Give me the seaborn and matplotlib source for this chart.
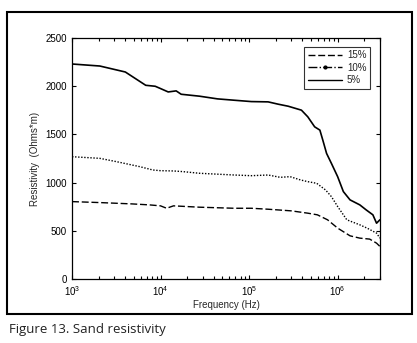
import numpy as np
import pandas as pd
import matplotlib
matplotlib.use('Agg')
import matplotlib.pyplot as plt
from matplotlib.lines import Line2D
from matplotlib.patches import Rectangle
import seaborn as sns

# values (frequency in Hz, resistivity in Ohms*m)
freq_5 = [1e3, 2.06e3, 4.0e3, 6.8e3, 8.7e3, 1.0e4, 1.22e4, 1.5e4, 1.71e4, 2.75e4,
          4.4e4, 6.8e4, 1.06e5, 1.64e5, 2.13e5, 2.76e5, 3.9e5, 4.6e5, 5.5e5,
          6.3e5, 6.8e5, 7.5e5, 8.5e5, 1.0e6, 1.16e6, 1.38e6, 1.78e6, 2.1e6,
          2.5e6, 2.75e6, 3.0e6]
res_5 = [2231, 2210, 2148, 2010, 2000, 1976, 1941, 1952, 1917, 1897,
         1869, 1855, 1841, 1838, 1814, 1793, 1752, 1683, 1579,
         1545, 1441, 1303, 1200, 1062, 907, 821, 769, 717,
         666, 579, 614]

freq_10 = [1e3, 2.06e3, 3.2e3, 5.8e3, 8.2e3, 1.0e4, 1.4e4, 1.8e4, 2.75e4, 6.8e4,
           1.06e5, 1.64e5, 2.25e5, 2.9e5, 3.8e5, 4.6e5, 5.8e5, 7.3e5, 8.5e5,
           1.0e6, 1.27e6, 1.78e6, 2.15e6, 2.75e6, 3.0e6]
res_10 = [1269, 1252, 1217, 1166, 1131, 1124, 1121, 1114, 1097, 1079,
          1072, 1079, 1055, 1062, 1028, 1010, 993, 924, 855,
          752, 614, 562, 528, 476, 424]

freq_15 = [1e3, 2.06e3, 4.8e3, 7.5e3, 1.0e4, 1.17e4, 1.4e4, 2.75e4, 6.8e4, 1.06e5,
           1.64e5, 3.0e5, 4.6e5, 5.9e5, 7.7e5, 1.0e6, 1.38e6, 1.78e6, 2.3e6,
           2.75e6, 3.0e6]
res_15 = [803, 793, 779, 769, 759, 734, 759, 745, 734, 734,
          724, 707, 683, 666, 614, 528, 448, 424, 414,
          372, 338]

labels = ['15%', '10%', '5%']
x_ticks = [1e3, 1e4, 1e5, 1e6]
y_ticks = [0, 500, 1000, 1500, 2000, 2500]

df = pd.concat([
    pd.DataFrame({'freq': freq_15, 'res': res_15, 'series': '15%'}),
    pd.DataFrame({'freq': freq_10, 'res': res_10, 'series': '10%'}),
    pd.DataFrame({'freq': freq_5, 'res': res_5, 'series': '5%'}),
])

sns.set_style('ticks')
plt.rcParams['font.family'] = ['Liberation Sans', 'DejaVu Sans']

fig = plt.figure(figsize=(4.17, 3.43), dpi=100)
ax = fig.add_axes([0.1727, 0.1866, 0.911 - 0.1727, 0.889 - 0.1866])

styles = {'15%': (0, (5, 2)), '10%': (0, (1, 1.2)), '5%': '-'}
widths = {'15%': 1.0, '10%': 1.0, '5%': 1.2}
for s in labels:
    sub = df[df['series'] == s]
    sns.lineplot(data=sub, x='freq', y='res', ax=ax, color='black',
                 linestyle=styles[s], linewidth=widths[s], legend=False)

ax.set_xscale('log')
ax.set_xlim(1e3, 3e6)
ax.set_ylim(0, 2500)
ax.set_xticks(x_ticks)
ax.set_yticks(y_ticks)
ax.tick_params(direction='in', which='both', top=True, right=True,
               labelsize=7, length=3, width=0.8, colors='black')
ax.tick_params(which='minor', length=2)
for sp in ax.spines.values():
    sp.set_linewidth(0.9)
    sp.set_color('black')
ax.set_xlabel('Frequency (Hz)', fontsize=7, labelpad=2)
ax.set_ylabel('Resistivity  (Ohms*m)', fontsize=7, labelpad=4)

handles = [Line2D([], [], color='black', linestyle=(0, (5, 2)), linewidth=1.0),
           Line2D([], [], color='black', linestyle='-.', linewidth=1.0,
                  marker='.', markersize=4),
           Line2D([], [], color='black', linestyle='-', linewidth=1.0)]
leg = ax.legend(handles, labels, loc='upper right', fontsize=7, numpoints=1,
                frameon=True, fancybox=False, edgecolor='black',
                handlelength=3.5, handletextpad=0.5, borderpad=0.4,
                labelspacing=0.25, bbox_to_anchor=(0.985, 0.985))
leg.get_frame().set_linewidth(0.8)

# outer frame and caption
fig.patches.append(Rectangle((7 / 417, 29 / 343), 405 / 417, 302 / 343,
                             transform=fig.transFigure, fill=False,
                             edgecolor='black', linewidth=1.5))
fig.text(9 / 417, 1 - 329 / 343, 'Figure 13. Sand resistivity',
         fontsize=9.5, va='center', ha='left', color='#222222',
         family=['Open Sans', 'DejaVu Sans'])

fig.savefig('out.png', dpi=100)
